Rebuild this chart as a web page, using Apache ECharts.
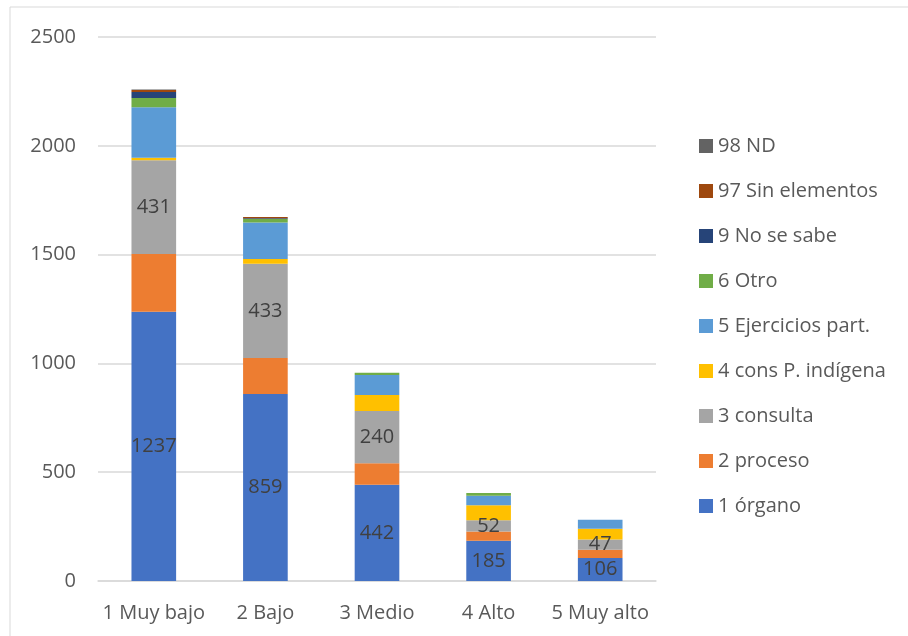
<!DOCTYPE html>
<html>
<head>
<meta charset="utf-8">
<script src="https://cdn.jsdelivr.net/npm/echarts@6/dist/echarts.min.js"></script>
<style>
  html, body { margin: 0; padding: 0; background: #fff; }
  #chart { width: 908px; height: 636px; }
</style>
</head>
<body>
<div id="chart"></div>
<script>
// categorias del eje x
const categorias = ["1 Muy bajo", "2 Bajo", "3 Medio", "4 Alto", "5 Muy alto"];

// valores por serie
const organo = [1237, 859, 442, 185, 106];
const proceso = [266, 166, 99, 42, 38];
const consulta = [431, 433, 240, 52, 47];
const consIndigena = [11, 22, 74, 69, 49];
const ejercicios = [232, 167, 92, 44, 42];
const otro = [43, 17, 10, 12, 0];
const noSeSabe = [27, 3, 0, 0, 0];
const sinElementos = [10, 6, 0, 0, 0];
const nd = [2, 0, 0, 0, 0];

const nombres = ["1 órgano", "2 proceso", "3 consulta", "4 cons P. indígena", "5 Ejercicios part.", "6 Otro", "9 No se sabe", "97 Sin elementos", "98 ND"];
const colores = ["#4472C4", "#ED7D31", "#A5A5A5", "#FFC000", "#5B9BD5", "#70AD47", "#264478", "#9E480E", "#636363"];
const valores = [organo, proceso, consulta, consIndigena, ejercicios, otro, noSeSabe, sinElementos, nd];
// solo estas series llevan etiqueta
const conEtiqueta = ["1 órgano", "3 consulta"];

const fuente = "'Open Sans', sans-serif";
const myChart = echarts.init(document.getElementById("chart"));

const series = nombres.map((nombre, i) => {
  return {
    name: nombre,
    type: "bar",
    stack: "total",
    barWidth: "40%",
    itemStyle: { color: colores[i] },
    label: {
      show: conEtiqueta.includes(nombre),
      position: "inside",
      color: "#404040",
      fontSize: 20,
      fontFamily: fuente
    },
    emphasis: { disabled: true },
    data: valores[i]
  };
});

const option = {
  animation: false,
  textStyle: { fontFamily: fuente },
  graphic: [
    {
      type: "rect",
      shape: { x: 10, y: 7, width: 1000, height: 700 },
      style: { fill: "none", stroke: "#d9d9d9", lineWidth: 1 }
    }
  ],
  grid: { left: 98, right: 252, top: 37, bottom: 55 },
  legend: {
    orient: "vertical",
    left: 699,
    top: 136,
    padding: 0,
    itemWidth: 14,
    itemHeight: 14,
    itemGap: 25,
    icon: "rect",
    textStyle: { color: "#595959", fontSize: 20, lineHeight: 20 },
    data: nombres.slice().reverse()
  },
  xAxis: {
    type: "category",
    data: categorias,
    axisLine: { show: true, lineStyle: { color: "#d9d9d9", width: 1.5 } },
    axisTick: { show: false },
    axisLabel: { color: "#595959", fontSize: 20, margin: 22, interval: 0 }
  },
  yAxis: {
    type: "value",
    min: 0,
    max: 2500,
    interval: 500,
    axisLine: { show: false },
    axisTick: { show: false },
    splitLine: { lineStyle: { color: "#d9d9d9", width: 1.5 } },
    axisLabel: { color: "#595959", fontSize: 20, margin: 22, formatter: v => String(v) }
  },
  series: series
};

myChart.setOption(option);
</script>
</body>
</html>
